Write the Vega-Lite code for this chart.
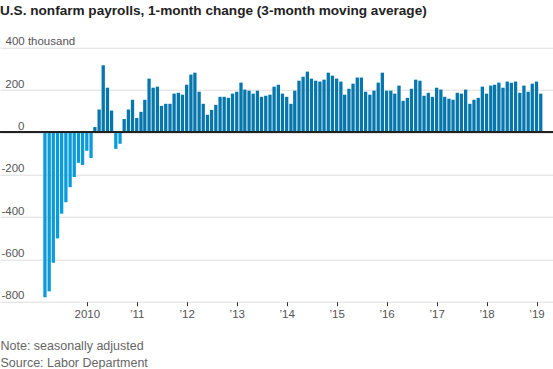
{
  "$schema": "https://vega.github.io/schema/vega-lite/v6.json",
  "width": 553,
  "height": 254,
  "autosize": "none",
  "padding": {"top": 47.7, "left": 0, "right": 0, "bottom": 67.3},
  "background": "white",
  "title": {
    "text": "U.S. nonfarm payrolls, 1-month change (3-month moving average)",
    "anchor": "start",
    "frame": "group",
    "font": "Liberation Sans",
    "fontSize": 13.6,
    "fontWeight": "bold",
    "color": "#222222",
    "offset": 18
  },
  "config": {
    "view": {"stroke": null},
    "font": "Liberation Sans"
  },
  "data": {
    "values": [
      {"month": "2009-03-01", "change": -779},
      {"month": "2009-04-01", "change": -751},
      {"month": "2009-05-01", "change": -616},
      {"month": "2009-06-01", "change": -501},
      {"month": "2009-07-01", "change": -384},
      {"month": "2009-08-01", "change": -330},
      {"month": "2009-09-01", "change": -259},
      {"month": "2009-10-01", "change": -211},
      {"month": "2009-11-01", "change": -144},
      {"month": "2009-12-01", "change": -154},
      {"month": "2010-01-01", "change": -87},
      {"month": "2010-02-01", "change": -121},
      {"month": "2010-03-01", "change": 25},
      {"month": "2010-04-01", "change": 108},
      {"month": "2010-05-01", "change": 317},
      {"month": "2010-06-01", "change": 211},
      {"month": "2010-07-01", "change": 103},
      {"month": "2010-08-01", "change": -78},
      {"month": "2010-09-01", "change": -54},
      {"month": "2010-10-01", "change": 63},
      {"month": "2010-11-01", "change": 108},
      {"month": "2010-12-01", "change": 154},
      {"month": "2011-01-01", "change": 68},
      {"month": "2011-02-01", "change": 97},
      {"month": "2011-03-01", "change": 154},
      {"month": "2011-04-01", "change": 254},
      {"month": "2011-05-01", "change": 211},
      {"month": "2011-06-01", "change": 216},
      {"month": "2011-07-01", "change": 125},
      {"month": "2011-08-01", "change": 135},
      {"month": "2011-09-01", "change": 135},
      {"month": "2011-10-01", "change": 183},
      {"month": "2011-11-01", "change": 187},
      {"month": "2011-12-01", "change": 178},
      {"month": "2012-01-01", "change": 225},
      {"month": "2012-02-01", "change": 273},
      {"month": "2012-03-01", "change": 282},
      {"month": "2012-04-01", "change": 192},
      {"month": "2012-05-01", "change": 135},
      {"month": "2012-06-01", "change": 83},
      {"month": "2012-07-01", "change": 106},
      {"month": "2012-08-01", "change": 130},
      {"month": "2012-09-01", "change": 168},
      {"month": "2012-10-01", "change": 168},
      {"month": "2012-11-01", "change": 163},
      {"month": "2012-12-01", "change": 183},
      {"month": "2013-01-01", "change": 192},
      {"month": "2013-02-01", "change": 235},
      {"month": "2013-03-01", "change": 202},
      {"month": "2013-04-01", "change": 197},
      {"month": "2013-05-01", "change": 183},
      {"month": "2013-06-01", "change": 197},
      {"month": "2013-07-01", "change": 168},
      {"month": "2013-08-01", "change": 173},
      {"month": "2013-09-01", "change": 178},
      {"month": "2013-10-01", "change": 216},
      {"month": "2013-11-01", "change": 225},
      {"month": "2013-12-01", "change": 183},
      {"month": "2014-01-01", "change": 168},
      {"month": "2014-02-01", "change": 135},
      {"month": "2014-03-01", "change": 197},
      {"month": "2014-04-01", "change": 244},
      {"month": "2014-05-01", "change": 263},
      {"month": "2014-06-01", "change": 287},
      {"month": "2014-07-01", "change": 254},
      {"month": "2014-08-01", "change": 244},
      {"month": "2014-09-01", "change": 240},
      {"month": "2014-10-01", "change": 249},
      {"month": "2014-11-01", "change": 282},
      {"month": "2014-12-01", "change": 268},
      {"month": "2015-01-01", "change": 254},
      {"month": "2015-02-01", "change": 240},
      {"month": "2015-03-01", "change": 178},
      {"month": "2015-04-01", "change": 206},
      {"month": "2015-05-01", "change": 230},
      {"month": "2015-06-01", "change": 259},
      {"month": "2015-07-01", "change": 259},
      {"month": "2015-08-01", "change": 192},
      {"month": "2015-09-01", "change": 178},
      {"month": "2015-10-01", "change": 197},
      {"month": "2015-11-01", "change": 235},
      {"month": "2015-12-01", "change": 282},
      {"month": "2016-01-01", "change": 197},
      {"month": "2016-02-01", "change": 197},
      {"month": "2016-03-01", "change": 183},
      {"month": "2016-04-01", "change": 221},
      {"month": "2016-05-01", "change": 149},
      {"month": "2016-06-01", "change": 163},
      {"month": "2016-07-01", "change": 206},
      {"month": "2016-08-01", "change": 249},
      {"month": "2016-09-01", "change": 244},
      {"month": "2016-10-01", "change": 173},
      {"month": "2016-11-01", "change": 187},
      {"month": "2016-12-01", "change": 168},
      {"month": "2017-01-01", "change": 211},
      {"month": "2017-02-01", "change": 202},
      {"month": "2017-03-01", "change": 168},
      {"month": "2017-04-01", "change": 159},
      {"month": "2017-05-01", "change": 154},
      {"month": "2017-06-01", "change": 187},
      {"month": "2017-07-01", "change": 183},
      {"month": "2017-08-01", "change": 202},
      {"month": "2017-09-01", "change": 135},
      {"month": "2017-10-01", "change": 154},
      {"month": "2017-11-01", "change": 163},
      {"month": "2017-12-01", "change": 216},
      {"month": "2018-01-01", "change": 183},
      {"month": "2018-02-01", "change": 221},
      {"month": "2018-03-01", "change": 225},
      {"month": "2018-04-01", "change": 235},
      {"month": "2018-05-01", "change": 211},
      {"month": "2018-06-01", "change": 240},
      {"month": "2018-07-01", "change": 235},
      {"month": "2018-08-01", "change": 240},
      {"month": "2018-09-01", "change": 187},
      {"month": "2018-10-01", "change": 221},
      {"month": "2018-11-01", "change": 192},
      {"month": "2018-12-01", "change": 230},
      {"month": "2019-01-01", "change": 240},
      {"month": "2019-02-01", "change": 183}
    ]
  },
  "layer": [
    {
      "mark": {"type": "bar", "size": 3.3},
      "encoding": {
        "x": {
          "field": "month",
          "type": "temporal",
          "scale": {
            "type": "utc",
            "domain": [
              {"year": 2008, "month": 5, "date": 13, "utc": true},
              {"year": 2019, "month": 3, "date": 26, "utc": true}
            ]
          },
          "axis": {
            "values": [
              {"year": 2010, "utc": true}, {"year": 2011, "utc": true}, {"year": 2012, "utc": true},
              {"year": 2013, "utc": true}, {"year": 2014, "utc": true}, {"year": 2015, "utc": true},
              {"year": 2016, "utc": true}, {"year": 2017, "utc": true}, {"year": 2018, "utc": true},
              {"year": 2019, "utc": true}
            ],
            "labelExpr": "utcyear(datum.value) == 2010 ? '2010' : '\u2019' + utcFormat(datum.value, '%y')",
            "domain": false,
            "grid": false,
            "ticks": true,
            "tickSize": 4,
            "tickColor": "#333333",
            "labelColor": "#555555",
            "labelFontSize": 11.5,
            "labelPadding": 3,
            "labelFlush": false,
            "labelOverlap": false,
            "title": ["Note: seasonally adjusted", "Source: Labor Department"],
            "titleAnchor": "start",
            "titleAlign": "left",
            "titleFontWeight": "normal",
            "titleFontSize": 12.5,
            "titleColor": "#666666",
            "titleLineHeight": 17,
            "titlePadding": 19
          }
        },
        "y": {
          "field": "change",
          "type": "quantitative",
          "scale": {"domain": [-800, 400], "nice": false},
          "axis": {
            "values": [-800, -600, -400, -200, 0, 200, 400],
            "labelExpr": "datum.value == 400 ? '400 thousand' : '' + datum.value",
            "domain": false,
            "ticks": false,
            "tickSize": 0,
            "grid": true,
            "gridColor": "#dddddd",
            "gridWidth": 1,
            "labelAlign": {"condition": {"test": "datum.value == 400", "value": "left"}, "value": "right"},
            "labelPadding": {"condition": {"test": "datum.value == 400", "value": -5}, "value": -24},
            "labelBaseline": "alphabetic",
            "labelOffset": -3,
            "labelColor": "#555555",
            "labelFontSize": 11.5,
            "title": null
          }
        },
        "color": {
          "condition": {"test": "datum.change < 0", "value": "#0b9bdb"},
          "value": "#0677ad"
        }
      }
    },
    {
      "mark": {"type": "rule", "color": "#222222", "strokeWidth": 1.5},
      "encoding": {"y": {"datum": 0}}
    }
  ]
}
